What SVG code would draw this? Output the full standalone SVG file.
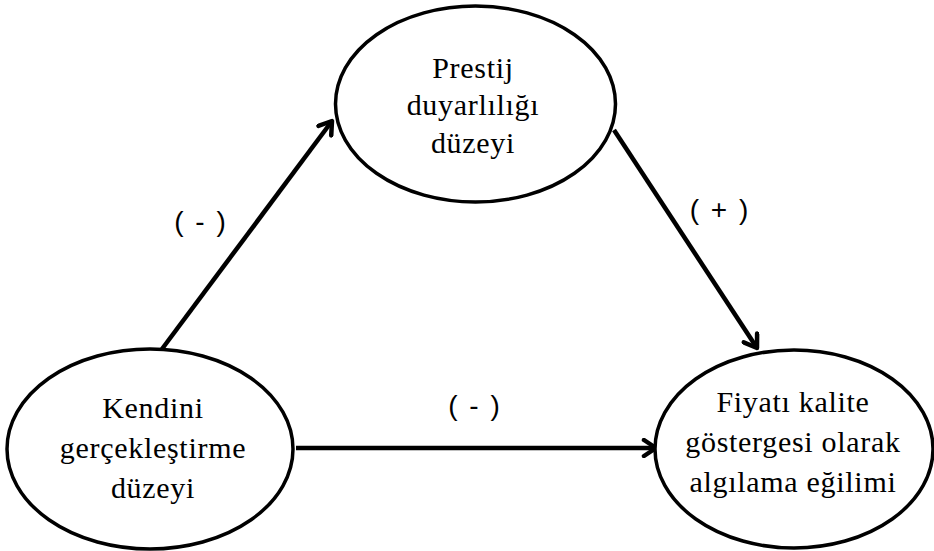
<svg xmlns="http://www.w3.org/2000/svg" width="934" height="551" viewBox="0 0 934 551">
<defs>
<style>
.node ellipse{fill:#fff;stroke:#000;stroke-width:3.5}
.edge{stroke:#000;stroke-width:4.5;fill:none}
</style>
<marker id="arr" viewBox="0 0 20 20" refX="16" refY="10" markerWidth="20" markerHeight="20" markerUnits="userSpaceOnUse" orient="auto">
<path d="M4,2 L16,10 L4,18" fill="none" stroke="#000" stroke-width="4.5" stroke-linecap="round" stroke-linejoin="round"/>
</marker>
</defs>
<rect width="934" height="551" fill="#fff"/>
<g id="edges">
<line class="edge" x1="162" y1="349" x2="332" y2="121" marker-end="url(#arr)"/>
<line class="edge" x1="614" y1="130" x2="757" y2="348" marker-end="url(#arr)"/>
<line class="edge" x1="296" y1="448" x2="656" y2="448" marker-end="url(#arr)"/>
<g font-family="'Liberation Sans', Arial, sans-serif" font-size="28" fill="#000" text-anchor="middle" word-spacing="4">
<text x="200" y="231">( - )</text>
<text x="719" y="219">( + )</text>
<text x="474" y="415">( - )</text>
</g>
</g>
<g id="n-prestij" class="node">
<ellipse cx="475.5" cy="104" rx="140" ry="98"/>
<g font-family="'Liberation Serif', 'Times New Roman', 'DejaVu Serif', serif" font-size="30" letter-spacing="0.7" fill="#000" text-anchor="middle">
<text x="473" y="78">Prestij</text>
<text x="473" y="115">duyarlılığı</text>
<text x="473" y="153">düzeyi</text>
</g>
</g>
<g id="n-kendini" class="node">
<ellipse cx="150" cy="449" rx="143" ry="100"/>
<g font-family="'Liberation Serif', 'Times New Roman', 'DejaVu Serif', serif" font-size="30" letter-spacing="0.7" fill="#000" text-anchor="middle">
<text x="153" y="418">Kendini</text>
<text x="153" y="458">gerçekleştirme</text>
<text x="153" y="498">düzeyi</text>
</g>
</g>
<g id="n-fiyat" class="node">
<ellipse cx="794" cy="449" rx="139" ry="99"/>
<g font-family="'Liberation Serif', 'Times New Roman', 'DejaVu Serif', serif" font-size="30" letter-spacing="0.7" fill="#000" text-anchor="middle">
<text x="793" y="412">Fiyatı kalite</text>
<text x="793" y="452">göstergesi olarak</text>
<text x="793" y="492">algılama eğilimi</text>
</g>
</g>
</svg>
